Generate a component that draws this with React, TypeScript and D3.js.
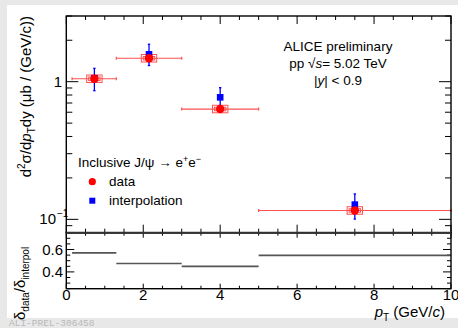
import React from "react";
import * as d3 from "d3";

// pT bins (GeV/c) and plotted centres
const binLow = [0.15, 1.3, 3, 5];
const binHigh = [1.3, 3, 5, 10];
const ptCenter = [0.73, 2.15, 4.0, 7.5];

// d2sigma/dpTdy (ub/(GeV/c))
const dataValues = [1.05, 1.48, 0.633, 0.116];
const interpValues = [1.06, 1.58, 0.77, 0.128];
const interpErrLow = [0.86, 1.31, 0.64, 0.1005];
const interpErrHigh = [1.25, 1.87, 0.905, 0.153];

// relative uncertainty ratio delta_data / delta_interpol
const ratioValues = [0.57, 0.475, 0.449, 0.548];

const xTicks = [0, 2, 4, 6, 8, 10];
const ratioTicks = [0.4, 0.6];

const FONT = "'Liberation Sans', Arial, Helvetica, sans-serif";

export default function App() {
  const W = 458;
  const H = 328;
  const left = 66.3;
  const right = 451;
  const top = 16;
  const mid = 232.7;
  const bottom = 288.7;

  const x = d3.scaleLinear().domain([0, 10]).range([left, right]);
  const y = d3.scaleLog().domain([0.08, 3]).range([mid, top]);
  const yr = d3.scaleLinear().domain([0.25, 0.75]).range([bottom, mid]);

  const red = "#ff0000";
  const redLine = "#ff5050";
  const blue = "#0000ff";

  // x ticks (major every 2, minor every 0.5)
  const xMinor = d3.range(0, 10.001, 0.5).filter((v) => Math.abs(v % 2) > 1e-6);

  // log y ticks
  const logMajor = [0.1, 1];
  const logMinor: number[] = [];
  [0.01, 0.1, 1].forEach((d) => {
    for (let k = 2; k <= 9; k++) {
      const v = d * k;
      if (v >= 0.08 && v <= 3) logMinor.push(v);
    }
  });

  const rMinor = d3.range(0.25, 0.751, 0.05).filter(
    (v) => !ratioTicks.some((t) => Math.abs(t - v) < 1e-6)
  );

  const tickStroke = "#000";

  return (
    <svg width={W} height={H} style={{ display: "block", position: "absolute", left: 0, top: 0 }}>
      <rect x={0} y={0} width={W} height={H} fill="#e8e8e8" />
      <rect x={7} y={5} width={W - 7} height={313} fill="#fff" />

      {/* axis ticks */}
      <g stroke={tickStroke} strokeWidth={1}>
        {xTicks.map((t) => (
          <g key={"xt" + t}>
            <line x1={x(t)} x2={x(t)} y1={top} y2={top + 8} />
            <line x1={x(t)} x2={x(t)} y1={mid} y2={mid - 8} />
            <line x1={x(t)} x2={x(t)} y1={mid} y2={mid + 5} />
            <line x1={x(t)} x2={x(t)} y1={bottom} y2={bottom - 5} />
          </g>
        ))}
        {xMinor.map((t) => (
          <g key={"xm" + t}>
            <line x1={x(t)} x2={x(t)} y1={top} y2={top + 4} />
            <line x1={x(t)} x2={x(t)} y1={mid} y2={mid - 4} />
            <line x1={x(t)} x2={x(t)} y1={mid} y2={mid + 3} />
            <line x1={x(t)} x2={x(t)} y1={bottom} y2={bottom - 3} />
          </g>
        ))}
        {logMajor.map((v) => (
          <g key={"ly" + v}>
            <line x1={left} x2={left + 12} y1={y(v)} y2={y(v)} />
            <line x1={right} x2={right - 12} y1={y(v)} y2={y(v)} />
          </g>
        ))}
        {logMinor.map((v) => (
          <g key={"lm" + v}>
            <line x1={left} x2={left + 6} y1={y(v)} y2={y(v)} />
            <line x1={right} x2={right - 6} y1={y(v)} y2={y(v)} />
          </g>
        ))}
        {ratioTicks.map((v) => (
          <g key={"rt" + v}>
            <line x1={left} x2={left + 8} y1={yr(v)} y2={yr(v)} />
            <line x1={right} x2={right - 8} y1={yr(v)} y2={yr(v)} />
          </g>
        ))}
        {rMinor.map((v) => (
          <g key={"rm" + v}>
            <line x1={left} x2={left + 4} y1={yr(v)} y2={yr(v)} />
            <line x1={right} x2={right - 4} y1={yr(v)} y2={yr(v)} />
          </g>
        ))}
      </g>

      {/* data: horizontal bin widths */}
      <g>
        {binLow.map((lo, i) => (
          <g key={"h" + i} stroke={redLine} strokeWidth={1.2}>
            <line x1={x(lo)} x2={x(binHigh[i])} y1={y(dataValues[i])} y2={y(dataValues[i])} />
            <line x1={x(lo)} x2={x(lo)} y1={y(dataValues[i]) - 1.5} y2={y(dataValues[i]) + 1.5} />
            <line x1={x(binHigh[i])} x2={x(binHigh[i])} y1={y(dataValues[i]) - 1.5} y2={y(dataValues[i]) + 1.5} />
          </g>
        ))}
        {/* systematic boxes */}
        {ptCenter.map((c, i) => {
          const v = dataValues[i];
          const x0 = x(c - 0.2);
          const x1 = x(c + 0.2);
          const y0 = y(v * 1.065);
          const y1 = y(v / 1.065);
          return (
            <g key={"b" + i} fill="none" stroke={redLine} strokeWidth={1}>
              <rect x={x0} y={y0} width={x1 - x0} height={y1 - y0} />
              <rect x={x0 + 2} y={y0 + 2} width={x1 - x0 - 4} height={y1 - y0 - 4} />
            </g>
          );
        })}
        {/* interpolation error bars and markers */}
        {ptCenter.map((c, i) => (
          <g key={"ie" + i} stroke={blue} strokeWidth={1.3}>
            <line x1={x(c)} x2={x(c)} y1={y(interpErrLow[i])} y2={y(interpErrHigh[i])} />
            <line x1={x(c) - 1.2} x2={x(c) + 1.2} y1={y(interpErrLow[i])} y2={y(interpErrLow[i])} />
            <line x1={x(c) - 1.2} x2={x(c) + 1.2} y1={y(interpErrHigh[i])} y2={y(interpErrHigh[i])} />
          </g>
        ))}
        {ptCenter.map((c, i) => (
          <rect key={"is" + i} x={x(c) - 3.3} y={y(interpValues[i]) - 3.3} width={6.6} height={6.6} fill={blue} />
        ))}
        {ptCenter.map((c, i) => (
          <circle key={"dc" + i} cx={x(c)} cy={y(dataValues[i])} r={4.2} fill={red} />
        ))}
      </g>

      {/* ratio panel */}
      <g stroke="#555" strokeWidth={1.7}>
        {binLow.map((lo, i) => (
          <line key={"r" + i} x1={x(lo)} x2={x(binHigh[i])} y1={yr(ratioValues[i])} y2={yr(ratioValues[i])} />
        ))}
      </g>

      {/* frames */}
      <g fill="none" stroke="#000">
        <rect x={left} y={top} width={right - left} height={mid - top} strokeWidth={1.4} />
        <rect x={left} y={mid} width={right - left} height={bottom - mid} strokeWidth={1.4} />
        <line x1={left} x2={right} y1={mid} y2={mid} strokeWidth={2} stroke="#333" />
      </g>

      {/* tick labels */}
      <g fontFamily={FONT} fontSize={15} fill="#000">
        <text x={62} y={y(1) + 5} textAnchor="end">1</text>
        <text x={56} y={y(0.1) + 5} textAnchor="end">10</text>
        <text x={57} y={y(0.1) - 2} fontSize={10}>−1</text>
        {ratioTicks.map((v) => (
          <text key={"rl" + v} x={63} y={yr(v) + 5} textAnchor="end">{v.toFixed(1)}</text>
        ))}
        {xTicks.map((t) => (
          <text key={"xl" + t} x={x(t)} y={300} textAnchor="middle">{t}</text>
        ))}
      </g>

      {/* axis titles */}
      <text x={445} y={317} textAnchor="end" fontFamily={FONT} fontSize={15}>
        <tspan fontStyle="italic">p</tspan>
        <tspan fontSize={10} dy={4}>T</tspan>
        <tspan dy={-4}> (GeV/</tspan>
        <tspan fontStyle="italic">c</tspan>
        <tspan>)</tspan>
      </text>
      <text transform="translate(31,16) rotate(-90)" textAnchor="end" fontFamily={FONT} fontSize={15}>
        <tspan>d</tspan>
        <tspan fontSize={10} dy={-6}>2</tspan>
        <tspan dy={6}>σ/d</tspan>
        <tspan fontStyle="italic">p</tspan>
        <tspan fontSize={10} dy={4}>T</tspan>
        <tspan dy={-4}>dy (μb / (GeV/c))</tspan>
      </text>
      <text transform="translate(25,320) rotate(-90)" textAnchor="start" fontFamily={FONT} fontSize={15}>
        <tspan>δ</tspan>
        <tspan fontSize={10} dy={4}>data</tspan>
        <tspan dy={-4}>/δ</tspan>
        <tspan fontSize={10} dy={4}>interpol</tspan>
      </text>

      {/* header text */}
      <g fontFamily={FONT} fontSize={13.5} textAnchor="middle" fill="#000">
        <text x={338} y={51}>ALICE preliminary</text>
        <text x={338} y={68}>
          <tspan>pp </tspan>
          <tspan>√</tspan>
          <tspan fontStyle="italic">s</tspan>
          <tspan>= 5.02 TeV</tspan>
        </text>
        <text x={338} y={85}>
          <tspan>|</tspan>
          <tspan fontStyle="italic">y</tspan>
          <tspan>| &lt; 0.9</tspan>
        </text>
      </g>

      {/* legend */}
      <g fontFamily={FONT} fontSize={13.5} fill="#000">
        <text x={78} y={167}>
          <tspan>Inclusive J/ψ → e</tspan>
          <tspan fontSize={9} dy={-5}>+</tspan>
          <tspan dy={5}>e</tspan>
          <tspan fontSize={9} dy={-5}>−</tspan>
        </text>
        <circle cx={92.3} cy={181.7} r={3.6} fill={red} />
        <text x={109} y={186}>data</text>
        <rect x={89.3} y={197.7} width={6} height={6} fill={blue} />
        <text x={109} y={205}>interpolation</text>
      </g>

      <text x={9} y={326} fontFamily="'Liberation Mono', 'DejaVu Sans Mono', monospace" fontSize={9.5} fill="#b8b8b8">
        ALI-PREL-306458
      </text>
    </svg>
  );
}
